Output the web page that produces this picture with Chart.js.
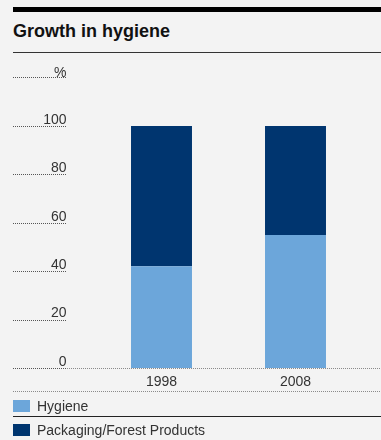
<!DOCTYPE html>
<html>
<head>
<meta charset="utf-8">
<script src="https://cdn.jsdelivr.net/npm/chart.js@4"></script>
<style>
  html, body { margin: 0; padding: 0; background: #f3f3f3; }
  body { width: 381px; height: 440px; position: relative; overflow: hidden;
         font-family: "Liberation Sans", Arial, sans-serif; color: #333; }
  .topbar { position: absolute; left: 13px; top: 7px; width: 368px; height: 5px; background: #000; }
  .title { position: absolute; left: 13px; top: 20px; font-size: 18px; font-weight: bold; color: #111; line-height: 22px; }
  .rule { position: absolute; left: 13px; top: 52px; width: 368px; height: 0; border-top: 1.5px solid #333; }
  .wrap { position: absolute; left: 0; top: 0; width: 381px; height: 440px; }
  .legend { position: absolute; left: 13px; top: 0; width: 368px; font-size: 14px; color: #333; }
  .item { position: absolute; left: 0; height: 16px; line-height: 16px; white-space: nowrap; }
  .sw { position: absolute; left: 0; top: 2px; width: 17px; height: 12px; }
  .lbl { position: absolute; left: 24px; top: 0; }
  .sep { position: absolute; left: 13px; top: 416px; width: 368px; border-top: 1px solid #222; }
</style>
</head>
<body>
<div class="topbar"></div>
<div class="title">Growth in hygiene</div>
<div class="rule"></div>
<div class="wrap"><canvas id="c" width="381" height="440"></canvas></div>
<div class="sep"></div>
<div class="legend" id="legend"></div>
<script>
// Share of sales by business area, per cent
const years = ['1998', '2008'];
const hygiene = [42, 55];
const packagingForest = [58, 45];
const yTicks = [0, 20, 40, 60, 80, 100];
const seriesNames = ['Hygiene', 'Packaging/Forest Products'];
const seriesColors = ['#6ca6da', '#00356f'];

const FONT = '"Liberation Sans", Arial, sans-serif';

// Legend rows below the chart
const legendTops = [398, 422];
const legend = document.getElementById('legend');
seriesNames.forEach((name, i) => {
  const row = document.createElement('div');
  row.className = 'item';
  row.style.top = legendTops[i] + 'px';
  row.innerHTML = '<span class="sw" style="background:' + seriesColors[i] + '"></span><span class="lbl">' + name + '</span>';
  legend.appendChild(row);
});

// Short dotted rules under the value labels, the base line and the unit label
const decorations = {
  id: 'decorations',
  afterDraw(chart) {
    const ctx = chart.ctx;
    const y = chart.scales.y;
    const left = 13, right = 381, ruleEnd = 67;
    ctx.save();
    ctx.lineWidth = 1;
    ctx.setLineDash([1, 1]);
    const dotted = (x0, x1, py, color) => {
      ctx.strokeStyle = color;
      ctx.beginPath();
      ctx.moveTo(x0, py);
      ctx.lineTo(x1, py);
      ctx.stroke();
    };
    yTicks.forEach(v => {
      const py = Math.round(y.getPixelForValue(v)) + 0.5;
      if (v === 0) {
        dotted(left, right, py, '#8a8a8a');
      }
      dotted(left, ruleEnd, py, '#555');
    });
    // unit label
    ctx.setLineDash([]);
    ctx.fillStyle = '#333';
    ctx.font = '14px ' + FONT;
    ctx.textAlign = 'right';
    ctx.textBaseline = 'alphabetic';
    ctx.fillText('%', 66.5, 76.5);
    ctx.setLineDash([1, 1]);
    dotted(left, ruleEnd, 77.5, '#555');
    // line under the year labels
    dotted(left, right, 391.5, '#8a8a8a');
    ctx.restore();
  }
};

new Chart(document.getElementById('c'), {
  type: 'bar',
  data: {
    labels: years,
    datasets: [
      { label: seriesNames[0], data: hygiene, backgroundColor: seriesColors[0] },
      { label: seriesNames[1], data: packagingForest, backgroundColor: seriesColors[1] }
    ]
  },
  options: {
    responsive: false,
    animation: false,
    events: [],
    layout: { padding: { top: 126, left: 13, right: 18.5, bottom: 0 } },
    datasets: { bar: { barPercentage: 1, categoryPercentage: 0.455, borderWidth: 0 } },
    plugins: { legend: { display: false }, tooltip: { enabled: false } },
    scales: {
      x: {
        stacked: true,
        grid: { display: false, drawTicks: false },
        border: { display: false },
        ticks: { color: '#333', font: { family: FONT, size: 14 }, padding: 6 },
        afterFit(scale) { scale.height = 72; }
      },
      y: {
        stacked: true,
        min: 0, max: 100,
        afterBuildTicks(scale) { scale.ticks = yTicks.map(v => ({ value: v })); },
        grid: { display: false, drawTicks: false },
        border: { display: false },
        ticks: { color: '#333', font: { family: FONT, size: 14 }, padding: 28, labelOffset: -6 },
        afterFit(scale) { scale.width = 81.5; }
      }
    }
  },
  plugins: [decorations]
});
</script>
</body>
</html>
